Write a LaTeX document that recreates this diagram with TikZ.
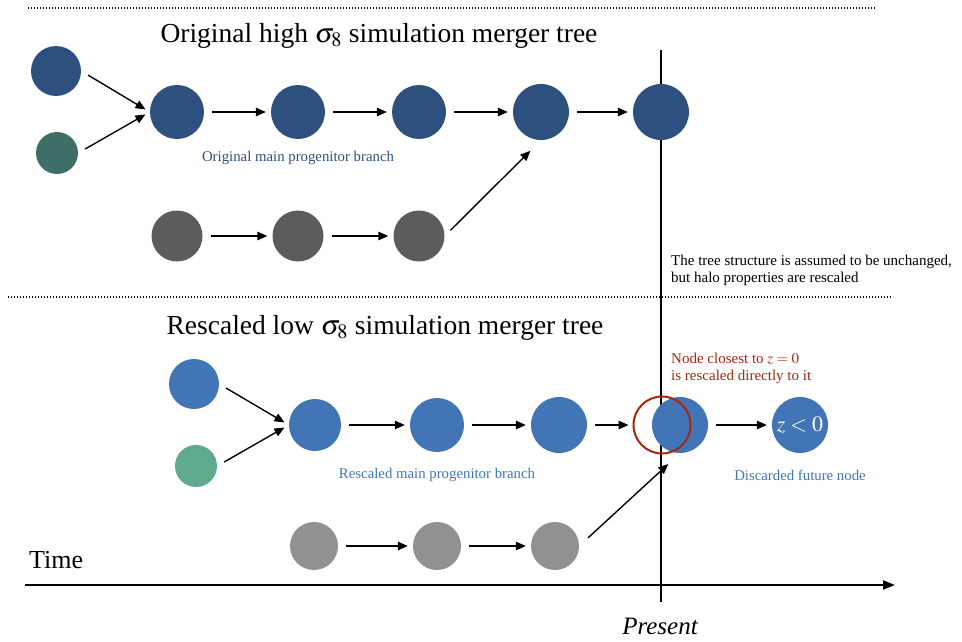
\documentclass[tikz,border=0pt]{standalone}
\usepackage{mathptmx}
\usepackage{fontspec}
\setmainfont{Liberation Serif}
\usetikzlibrary{arrows.meta,positioning}

\definecolor{oldblue}{RGB}{45,80,126}
\definecolor{oldgreen}{RGB}{63,110,103}
\definecolor{oldgray}{RGB}{92,92,92}
\definecolor{newblue}{RGB}{66,117,181}
\definecolor{newgreen}{RGB}{95,170,141}
\definecolor{newgray}{RGB}{145,145,145}
\definecolor{closered}{RGB}{163,40,16}

\begin{document}
\begin{tikzpicture}[x=1pt, y=-1pt,
    halo/.style={circle, inner sep=0pt, draw=none, minimum size=#1},
    halo/.default=54pt,
    arrow/.style={-{Triangle[length=10pt,width=8.5pt]}, line width=1.4pt, shorten <=8pt, shorten >=5pt},
    sep/.style={line width=1.3pt, dash pattern=on 1.3pt off 1.7pt},
    title/.style={font=\fontsize{27.5}{32}\selectfont},
    note/.style={font=\fontsize{15}{17}\selectfont, align=left, anchor=west, inner sep=0pt},
    branch/.style={font=\fontsize{14.8}{17}\selectfont, inner sep=0pt}
]
    \useasboundingbox (0,0) rectangle (962,642);

    % separators and axes
    \draw[sep] (28,8) -- (875,8);
    \draw[sep] (8,297) -- (893,297);
    \coordinate (ptop) at (661,50);
    \coordinate (pbot) at (661,602);
    \draw[line width=2pt] (ptop) -- (pbot);
    \coordinate (tstart) at (25,585);
    \coordinate (tend) at (895,585);
    \draw[line width=2pt, -{Triangle[length=12pt,width=9pt]}] (tstart) -- (tend);

    \node[title] (top) at (379,36) {Original high $\sigma_8$ simulation merger tree};
    \node[title] (bottom) at (385,328) {Rescaled low $\sigma_8$ simulation merger tree};
    \node[font=\fontsize{26}{30}\selectfont, anchor=west, inner sep=0pt] (time) at (29,560) {Time};
    \node[font=\fontsize{25}{30}\selectfont\itshape] (present) at (660,626) {Present};

    % original tree
    \node[halo=50pt, fill=oldblue] (a1) at (56,71) {};
    \node[halo=42pt, fill=oldgreen] (a2) at (57,153) {};
    \node[halo, fill=oldblue] (b1) at (177,112) {};
    \node[halo, fill=oldblue] (b2) at (298,112) {};
    \node[halo, fill=oldblue] (b3) at (419,112) {};
    \node[halo=56pt, fill=oldblue] (b4) at (541,112) {};
    \node[halo=56pt, fill=oldblue] (b5) at (661,112) {};
    \node[halo=51pt, fill=oldgray] (c1) at (177,236) {};
    \node[halo=51pt, fill=oldgray] (c2) at (298,236) {};
    \node[halo=51pt, fill=oldgray] (c3) at (419,236) {};

    \draw[arrow] (a1.east) -- (b1.west);
    \draw[arrow] (a2.east) -- (b1.west);
    \draw[arrow] (b1) -- (b2);
    \draw[arrow] (b2) -- (b3);
    \draw[arrow] (b3) -- (b4);
    \draw[arrow] (b4) -- (b5);
    \draw[arrow] (c1) -- (c2);
    \draw[arrow] (c2) -- (c3);
    \draw[arrow, shorten >=15pt] (c3.east) -- (b4.south);

    \node[branch, text=oldblue] (oldlbl) at (298,158) {Original main progenitor branch};
    \node[note] (struct) at (671,270) {The tree structure is assumed to be unchanged,\\but halo properties are rescaled};

    % rescaled tree
    \node[halo=50pt, fill=newblue] (d1) at (194,384) {};
    \node[halo=42pt, fill=newgreen] (d2) at (196,466) {};
    \node[halo=52pt, fill=newblue] (e1) at (315,425) {};
    \node[halo, fill=newblue] (e2) at (437,425) {};
    \node[halo=56pt, fill=newblue] (e3) at (559,425) {};
    \node[halo=56pt, fill=newblue] (e4) at (680,425) {};
    \node[halo=56pt, fill=newblue, text=white, font=\fontsize{22}{24}\selectfont] (e5) at (800,425) {$z<0$};
    \node[circle, draw=closered, line width=2pt, minimum size=57pt, inner sep=0pt] (closest) at (662,425) {};
    \node[halo=48pt, fill=newgray] (f1) at (314,546) {};
    \node[halo=48pt, fill=newgray] (f2) at (437,546) {};
    \node[halo=48pt, fill=newgray] (f3) at (555,546) {};

    \draw[arrow] (d1.east) -- (e1.west);
    \draw[arrow] (d2.east) -- (e1.west);
    \draw[arrow] (e1) -- (e2);
    \draw[arrow] (e2) -- (e3);
    \draw[arrow, shorten >=4pt] (e3) -- (closest);
    \draw[arrow] (e4) -- (e5);
    \draw[arrow] (f1) -- (f2);
    \draw[arrow] (f2) -- (f3);
    \draw[arrow, shorten >=16pt, shorten <=12pt] (f3.east) -- (e4.south);

    \node[branch, text=newblue] (newlbl) at (437,475) {Rescaled main progenitor branch};
    \node[branch, text=newblue] (discard) at (800,475) {Discarded future node};
    \node[note, text=closered] (closelbl) at (671,368) {Node closest to $z=0$\\is rescaled directly to it};
\end{tikzpicture}
\end{document}
